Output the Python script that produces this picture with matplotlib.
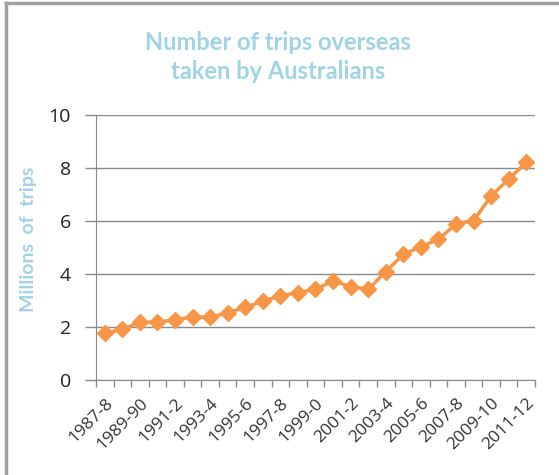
import matplotlib
matplotlib.use("Agg")
from matplotlib import pyplot as plt
from matplotlib.lines import Line2D

years = ["1987-8", "1988-9", "1989-90", "1990-1", "1991-2", "1992-3", "1993-4",
         "1994-5", "1995-6", "1996-7", "1997-8", "1998-9", "1999-0", "2000-1",
         "2001-2", "2002-3", "2003-4", "2004-5", "2005-6", "2006-7", "2007-8",
         "2008-9", "2009-10", "2010-11", "2011-12"]
trips = [1.76, 1.91, 2.17, 2.20, 2.26, 2.39, 2.36, 2.54, 2.74, 2.97, 3.18, 3.30,
         3.42, 3.74, 3.52, 3.42, 4.09, 4.74, 5.03, 5.31, 5.89, 6.01, 6.94, 7.58, 8.21]
yticks = [0, 2, 4, 6, 8, 10]

blue = "#9fd3e6"
grey = "#8a8a8a"
orange = "#f79646"

fig = plt.figure(figsize=(5.59, 4.75), dpi=100)
ax = fig.add_axes([96 / 559, 1 - 380 / 475, 439 / 559, 265 / 475])

x = list(range(len(years)))
ax.plot(x, trips, color=orange, lw=2.5, marker="D", markersize=8,
        markeredgecolor=orange, zorder=3, clip_on=False)

ax.set_xlim(-0.5, len(years) - 0.5)
ax.set_ylim(0, 10)
ax.set_yticks(yticks)
ax.set_yticklabels([str(v) for v in yticks], fontsize=14, color="#222222", family="Open Sans")
ax.set_xticks(x[::2])
ax.set_xticklabels(years[::2], rotation=45, ha="right", va="top",
                   rotation_mode="anchor", fontsize=12.5, color="#333333", family="Open Sans")
ax.set_xticks([i - 0.5 for i in range(len(years) + 1)], minor=True)
ax.tick_params(axis="x", which="major", length=0, pad=11)
ax.tick_params(axis="x", which="minor", length=5, color=grey, width=1)
ax.tick_params(axis="y", length=8, color=grey, width=1, pad=10)
ax.grid(axis="y", color=grey, lw=1)
ax.set_axisbelow(True)
for s in ["top", "right"]:
    ax.spines[s].set_visible(False)
ax.spines["left"].set_color(grey)
ax.spines["bottom"].set_color(grey)

ax.set_ylabel("Millions  of  trips", color=blue, fontsize=14, fontweight="bold",
              family="Lato")
ax.yaxis.set_label_coords(-0.135, 0.53)
fig.text(0.497, 1 - 57 / 475, "Number of trips overseas\ntaken by Australians",
         ha="center", va="center", color=blue, fontsize=17, fontweight="bold",
         family="Lato", linespacing=1.3)

# outer chart frame (left and top edges visible)
fig.add_artist(Line2D([6 / 559, 6 / 559], [0, 1 - 3 / 475], transform=fig.transFigure,
                      color="#a0a0a0", lw=2.5))
fig.add_artist(Line2D([6 / 559, 1], [1 - 3 / 475, 1 - 3 / 475], transform=fig.transFigure,
                      color="#a0a0a0", lw=2.5))

fig.savefig("out.png", dpi=100)
